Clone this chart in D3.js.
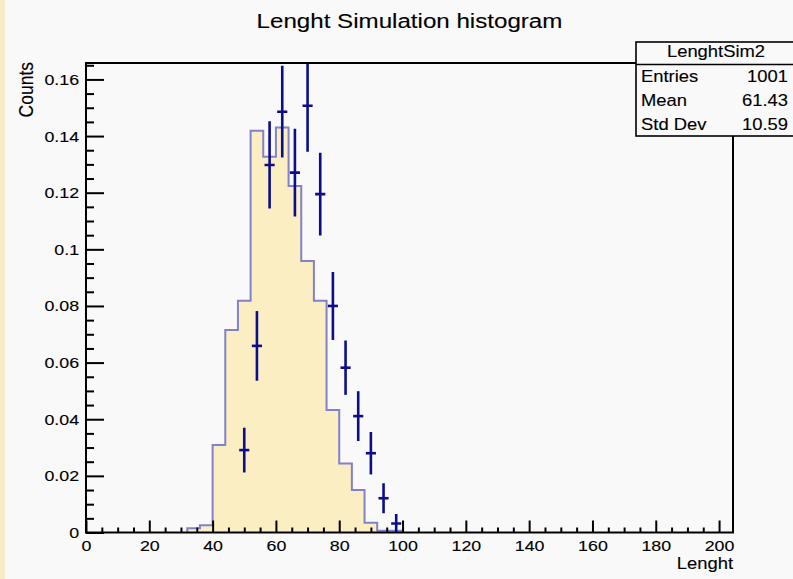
<!DOCTYPE html>
<html>
<head>
<meta charset="utf-8">
<script src="https://cdn.jsdelivr.net/npm/d3@7"></script>
<style>
  html, body { margin: 0; padding: 0; background: #f9f9f9; }
  svg { display: block; }
  text { font-family: "Liberation Sans", Arial, Helvetica, sans-serif; fill: #000; stroke: #000; stroke-width: 0.12px; }
</style>
</head>
<body>
<script>
// ---------------- data ----------------
const binEdgesLow = [32, 36, 40, 44, 48, 52, 56, 60, 64, 68, 72, 76, 80, 84, 88, 92, 96];
const binWidth = 4;
const binValues = [0.0015, 0.0026, 0.0309, 0.0715, 0.0818, 0.1419, 0.1327, 0.1430, 0.1224,
                   0.0959, 0.0818, 0.0433, 0.0244, 0.0150, 0.0034, 0.0006, 0.0006];

const pointX   = [50, 54, 58, 62, 66, 70, 74, 78, 82, 86, 90, 94, 98];
const pointY   = [0.0291, 0.0659, 0.1298, 0.1486, 0.1271, 0.1507, 0.1195, 0.0800, 0.0582, 0.0411, 0.0280, 0.0121, 0.0032];
const pointErr = [0.0079, 0.0123, 0.0154, 0.0162, 0.0155, 0.0162, 0.0146, 0.0120, 0.0096, 0.0088, 0.0075, 0.0053, 0.0033];
const pointXErr = 1.6;

const xTicks = [0, 20, 40, 60, 80, 100, 120, 140, 160, 180, 200];
const yTicks = [0, 0.02, 0.04, 0.06, 0.08, 0.1, 0.12, 0.14, 0.16];
const xDomain = [0, 204.4];
const yDomain = [0, 0.1658];

const titleText = "Lenght Simulation histogram";
const xLabel = "Lenght";
const yLabel = "Counts";
const statsName = "LenghtSim2";
const statsRows = ["Entries", "Mean", "Std Dev"];
const statsVals = ["1001", "61.43", "10.59"];

// ---------------- layout ----------------
const W = 793, H = 579;
const L = 86, R = 733, T = 63, B = 532.5;
const SX = 1.15; // horizontal text stretch

const svg = d3.select("body").append("svg").attr("width", W).attr("height", H);
svg.append("rect").attr("width", W).attr("height", H).attr("fill", "#f9f9f9");
svg.append("rect").attr("width", 5).attr("height", H).attr("fill", "#f6ecc8");

const x = d3.scaleLinear().domain(xDomain).range([L, R]);
const y = d3.scaleLinear().domain(yDomain).range([B, T]);

svg.append("defs").append("clipPath").attr("id", "plotclip")
  .append("rect").attr("x", L).attr("y", T).attr("width", R - L).attr("height", B - T);

const plot = svg.append("g").attr("clip-path", "url(#plotclip)");

// histogram fill + outline
const pts = [];
binEdgesLow.forEach((lo, i) => {
  pts.push([lo, binValues[i]]);
  pts.push([lo + binWidth, binValues[i]]);
});
const area = d3.area().x(d => x(d[0])).y0(y(0)).y1(d => y(d[1]));
plot.append("path").datum(pts).attr("d", area).attr("fill", "#fbeec2");

const outline = [[binEdgesLow[0], 0], ...pts, [binEdgesLow[binEdgesLow.length - 1] + binWidth, 0]];
const line = d3.line().x(d => x(d[0])).y(d => y(d[1]));
plot.append("path").datum(outline).attr("d", line)
  .attr("fill", "none").attr("stroke", "#6d6dc6").attr("stroke-opacity", 0.85).attr("stroke-width", 2);

// error bars
const eg = plot.append("g").attr("stroke", "#0c0c8c").attr("stroke-width", 2.6);
pointX.forEach((px, i) => {
  eg.append("line").attr("x1", x(px)).attr("x2", x(px))
    .attr("y1", y(pointY[i] - pointErr[i])).attr("y2", y(pointY[i] + pointErr[i]));
  eg.append("line").attr("x1", x(px - pointXErr)).attr("x2", x(px + pointXErr))
    .attr("y1", y(pointY[i])).attr("y2", y(pointY[i]));
});

// axes
const fmt = d => d === 0 ? "0" : String(+d.toFixed(3));
const xMinor = d3.range(0, 205, 5).filter(v => v % 20 !== 0);
const yMinor = d3.range(0, 0.1658, 0.005).filter(v => Math.abs(v / 0.02 - Math.round(v / 0.02)) > 1e-6);

const xMaj = svg.append("g").attr("transform", `translate(0,${B})`)
  .call(d3.axisBottom(x).tickValues(xTicks).tickSize(-12).tickPadding(8).tickFormat(fmt));
const xMin = svg.append("g").attr("transform", `translate(0,${B})`)
  .call(d3.axisBottom(x).tickValues(xMinor).tickSize(-5).tickFormat(""));
const yMaj = svg.append("g").attr("transform", `translate(${L},0)`)
  .call(d3.axisLeft(y).tickValues(yTicks).tickSize(-18).tickPadding(6).tickFormat(fmt));
const yMin = svg.append("g").attr("transform", `translate(${L},0)`)
  .call(d3.axisLeft(y).tickValues(yMinor).tickSize(-8).tickFormat(""));

[xMaj, xMin, yMaj, yMin].forEach(g => {
  g.select(".domain").remove();
  g.selectAll(".tick line").attr("stroke", "#000").attr("stroke-width", 2);
  g.selectAll("text").attr("font-size", 15.5).attr("font-family", "Liberation Sans, Arial, sans-serif")
    .attr("fill", "#000").attr("transform", `scale(${SX},1)`);
});

// frame
const frame = svg.append("g").attr("stroke", "#000").attr("stroke-width", 2).attr("fill", "none");
frame.append("rect").attr("x", L).attr("y", T).attr("width", R - L).attr("height", B - T);

// title
svg.append("text").attr("transform", `translate(409.5,28) scale(${SX},1)`)
  .attr("text-anchor", "middle").attr("font-size", 21).text(titleText);

// axis labels
svg.append("text").attr("transform", `translate(733,569) scale(${SX},1)`)
  .attr("text-anchor", "end").attr("font-size", 16).text(xLabel);
svg.append("text").attr("transform", `translate(33,62) rotate(-90) scale(1,${SX})`)
  .attr("text-anchor", "end").attr("font-size", 17.5).text(yLabel);

// stats box
const sb = svg.append("g");
sb.append("rect").attr("x", 636).attr("y", 42).attr("width", 160).attr("height", 94)
  .attr("fill", "#f9f9f9").attr("stroke", "#000").attr("stroke-width", 1.6);
sb.append("line").attr("x1", 636).attr("x2", 796).attr("y1", 64.5).attr("y2", 64.5)
  .attr("stroke", "#000").attr("stroke-width", 1.6);
sb.append("text").attr("transform", `translate(716,57) scale(${SX},1)`)
  .attr("text-anchor", "middle").attr("font-size", 16).text(statsName);
statsRows.forEach((r, i) => {
  const by = 82 + i * 24;
  sb.append("text").attr("transform", `translate(641,${by}) scale(${SX},1)`)
    .attr("font-size", 16).text(r);
  sb.append("text").attr("transform", `translate(788,${by}) scale(${SX},1)`)
    .attr("text-anchor", "end").attr("font-size", 16).text(statsVals[i]);
});
</script>
</body>
</html>
